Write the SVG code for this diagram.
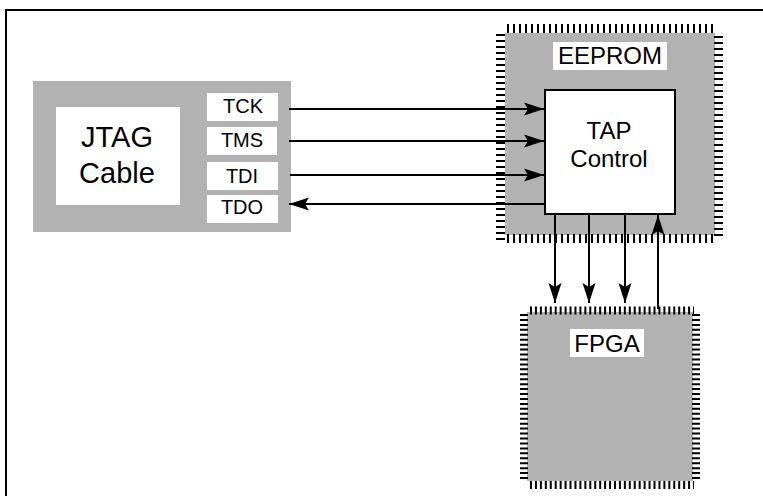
<svg xmlns="http://www.w3.org/2000/svg" width="763" height="496" viewBox="0 0 763 496">
<style>
.g{fill:#b2b2b2}
.w{fill:#fff}
text{font-family:"Liberation Sans",Arial,sans-serif;fill:#000;text-anchor:middle}
.sig{font-size:20px}
.big{font-size:29px}
.mid{font-size:24px}
.lab{font-size:24px}
.t1{stroke:#000;stroke-width:9;stroke-dasharray:2 4;fill:none}
.t2{stroke:#000;stroke-width:8;stroke-dasharray:2 2.94;fill:none}
.c{stroke:#000;stroke-width:2;fill:none}
</style>
<defs>
<marker id="a" markerUnits="userSpaceOnUse" markerWidth="22" markerHeight="16" refX="20" refY="8" orient="auto"><path d="M0,1.500 L20,8 L0,14.500 L4,8 Z" fill="#000"/></marker>
</defs>
<rect width="763" height="496" fill="#fff"/>
<path id="frame" d="M6,496 V10 H763" class="c"/>
<g id="jtag-cable">
<rect class="g" x="33" y="81" width="258" height="151"/>
<rect class="w" x="56" y="107" width="124" height="98"/>
<text class="big" x="117" y="147">JTAG</text>
<text class="big" x="117" y="183">Cable</text>
</g>
<g id="tck"><rect class="w" x="207" y="93" width="71" height="28"/><text class="sig" x="243" y="113">TCK</text></g>
<g id="tms"><rect class="w" x="207" y="127" width="70" height="28"/><text class="sig" x="242" y="147">TMS</text></g>
<g id="tdi"><rect class="w" x="207" y="162" width="71" height="28"/><text class="sig" x="242" y="183">TDI</text></g>
<g id="tdo"><rect class="w" x="207" y="195" width="71" height="28"/><text class="sig" x="242" y="214">TDO</text></g>
<g id="eeprom">
<rect class="g" x="505" y="33" width="210" height="202"/>
<path class="t1" d="M507,28.500 H713 M507,238.500 H713"/>
<path class="t1" d="M500.500,34 V240 M718.500,36 V240"/>
</g>
<g id="eeprom-label"><rect class="w" x="553" y="42" width="114" height="28"/><text class="lab" x="610" y="64">EEPROM</text></g>
<g id="tap-control">
<rect x="545" y="90" width="130" height="124" fill="#fff" stroke="#000" stroke-width="2"/>
<text class="mid" x="609" y="139">TAP</text>
<text class="mid" x="609" y="167">Control</text>
</g>
<g id="fpga">
<rect class="g" x="527" y="312" width="166" height="169"/>
<path class="t2" d="M530,310.500 H694 M530,485 H694"/>
<path class="t2" d="M524,314 V479 M696,314 V479"/>
</g>
<g id="fpga-label"><rect class="w" x="570" y="329" width="74" height="28"/><text class="lab" x="607" y="352">FPGA</text></g>
<g id="connectors">
<path class="c" d="M289,109 H544" marker-end="url(#a)"/>
<path class="c" d="M289,141 H544" marker-end="url(#a)"/>
<path class="c" d="M290,175 H544" marker-end="url(#a)"/>
<path class="c" d="M544,204 H289" marker-end="url(#a)"/>
<path class="c" d="M555,214 V303" marker-end="url(#a)"/>
<path class="c" d="M589,214 V303" marker-end="url(#a)"/>
<path class="c" d="M625,214 V303" marker-end="url(#a)"/>
<path class="c" d="M658,309 V215" marker-end="url(#a)"/>
</g>
</svg>
